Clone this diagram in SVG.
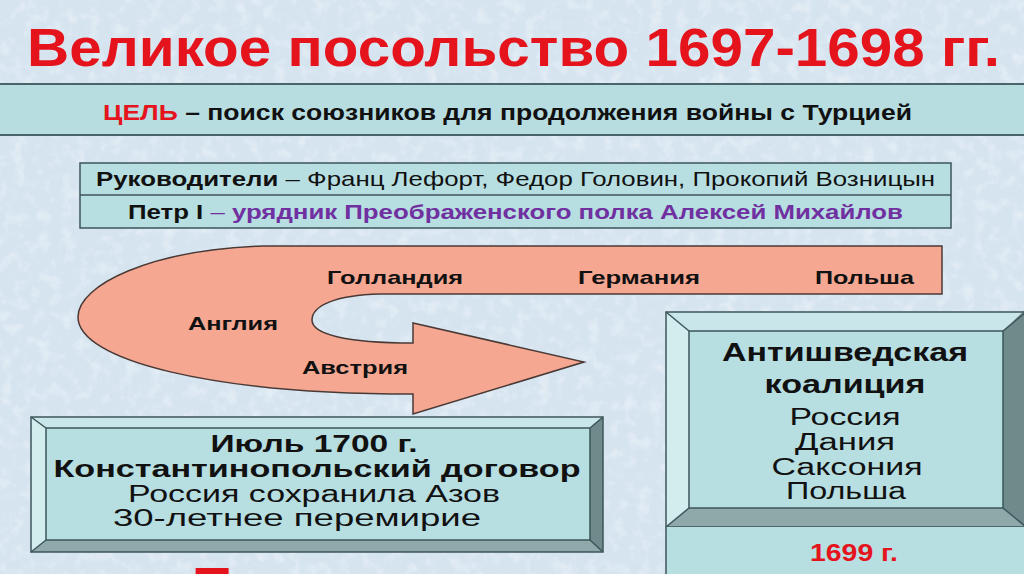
<svg xmlns="http://www.w3.org/2000/svg" width="1024" height="574" viewBox="0 0 1024 574">
<defs>
<filter id="tex" x="0" y="0" width="100%" height="100%">
<feTurbulence type="fractalNoise" baseFrequency="0.08" numOctaves="3" seed="4" result="n"/>
<feColorMatrix in="n" type="matrix" values="0 0 0 0 1  0 0 0 0 1  0 0 0 0 1  0 0 0 1.6 -0.75" result="w"/>
<feComposite in="w" in2="SourceGraphic" operator="in"/>
</filter>
<style>
.sans{font-family:"Liberation Sans",Arial,sans-serif}
.b{font-weight:bold}
.red{fill:#e5141c}
.blk{fill:#111}
.pur{fill:#7030a0}
.face{fill:#b7dee1}
.edge{stroke:#3c5559;stroke-width:1.5}
.lbl{font-family:"Liberation Sans",Arial,sans-serif;font-weight:bold;font-size:19px;fill:#111}
</style>
</defs>
<rect width="1024" height="574" fill="#d6e4f0"/>
<rect width="1024" height="574" fill="#d6e4f0" filter="url(#tex)" opacity="0.55"/>

<g id="title">
<text class="sans b red" x="27" y="66" font-size="54" textLength="973" lengthAdjust="spacingAndGlyphs">Великое посольство 1697-1698 гг.</text>
</g>

<g id="goal">
<rect x="-2" y="84" width="1028" height="51" fill="#b7dde1" stroke="#4a6569" stroke-width="2"/>
<text class="sans b" x="103" y="120" font-size="22" textLength="809" lengthAdjust="spacingAndGlyphs"><tspan class="red">ЦЕЛЬ</tspan><tspan class="blk"> – поиск союзников для продолжения войны с Турцией</tspan></text>
</g>

<g id="leaders">
<rect x="80" y="163" width="871" height="65" class="face edge"/>
<line x1="80" y1="195" x2="951" y2="195" class="edge"/>
<text class="sans" x="96" y="186" font-size="21" textLength="839" lengthAdjust="spacingAndGlyphs"><tspan class="b blk">Руководители</tspan><tspan class="blk"> – Франц Лефорт, Федор Головин, Прокопий Возницын</tspan></text>
<text class="sans" x="128" y="219" font-size="21" textLength="775" lengthAdjust="spacingAndGlyphs"><tspan class="b blk">Петр I</tspan><tspan class="pur"> – </tspan><tspan class="b pur">урядник Преображенского полка Алексей Михайлов</tspan></text>
</g>

<g id="connectors">
<path d="M942,246 L262,246 C150,250 78,285 78,317 C78,360 210,394 413,394 L413,414 L584,362 L413,323 L413,343 C345,343 312,334 312,320 C312,306 335,295 380,294 L942,294 Z" fill="#f5a791" stroke="#4a3a36" stroke-width="1.5" stroke-linejoin="miter"/>
<text class="lbl" x="327" y="284" textLength="136" lengthAdjust="spacingAndGlyphs">Голландия</text>
<text class="lbl" x="578" y="284" textLength="122" lengthAdjust="spacingAndGlyphs">Германия</text>
<text class="lbl" x="815" y="284" textLength="99" lengthAdjust="spacingAndGlyphs">Польша</text>
<text class="lbl" x="188" y="330" textLength="90" lengthAdjust="spacingAndGlyphs">Англия</text>
<text class="lbl" x="302" y="374" textLength="106" lengthAdjust="spacingAndGlyphs">Австрия</text>
</g>

<g id="treaty">
<polygon points="31,417 603,417 590,428 46,428" fill="#c9e7ea"/>
<polygon points="31,417 46,428 46,540 31,552" fill="#d3ecee"/>
<polygon points="603,417 603,552 590,540 590,428" fill="#6e8a8b"/>
<polygon points="31,552 46,540 590,540 603,552" fill="#8fa9aa"/>
<rect x="46" y="428" width="544" height="112" class="face"/>
<rect x="31" y="417" width="572" height="135" fill="none" class="edge"/>
<rect x="46" y="428" width="544" height="112" fill="none" class="edge"/>
<line x1="31" y1="417" x2="46" y2="428" class="edge"/>
<line x1="603" y1="417" x2="590" y2="428" class="edge"/>
<line x1="31" y1="552" x2="46" y2="540" class="edge"/>
<line x1="603" y1="552" x2="590" y2="540" class="edge"/>
<text class="sans b blk" x="314" y="452" font-size="24" text-anchor="middle" textLength="207" lengthAdjust="spacingAndGlyphs">Июль 1700 г.</text>
<text class="sans b blk" x="317" y="477" font-size="23" text-anchor="middle" textLength="527" lengthAdjust="spacingAndGlyphs">Константинопольский договор</text>
<text class="sans blk" x="314" y="502" font-size="23" text-anchor="middle" textLength="372" lengthAdjust="spacingAndGlyphs">Россия сохранила Азов</text>
<text class="sans blk" x="297" y="526" font-size="23" text-anchor="middle" textLength="368" lengthAdjust="spacingAndGlyphs">30-летнее перемирие</text>
</g>

<g id="coalition">
<polygon points="666,312 1030,312 1003,331 689,331" fill="#c9e7ea"/>
<polygon points="666,312 689,331 689,508 666,527" fill="#d3ecee"/>
<polygon points="1030,305 1030,534 1003,508 1003,331" fill="#6e8a8b"/>
<polygon points="666,527 689,508 1003,508 1030,530" fill="#8fa9aa"/>
<rect x="689" y="331" width="314" height="177" class="face"/>
<path d="M666,527 L666,312 L1030,312" fill="none" class="edge"/>
<line x1="666" y1="527" x2="1030" y2="527" class="edge"/>
<rect x="689" y="331" width="314" height="177" fill="none" class="edge"/>
<line x1="666" y1="312" x2="689" y2="331" class="edge"/>
<line x1="666" y1="527" x2="689" y2="508" class="edge"/>
<line x1="1003" y1="331" x2="1026" y2="312" class="edge"/>
<line x1="1003" y1="508" x2="1026" y2="527" class="edge"/>
<text class="sans b blk" x="845" y="361" font-size="26" text-anchor="middle" textLength="246" lengthAdjust="spacingAndGlyphs">Антишведская</text>
<text class="sans b blk" x="845" y="393" font-size="26" text-anchor="middle" textLength="161" lengthAdjust="spacingAndGlyphs">коалиция</text>
<text class="sans blk" x="845" y="425" font-size="23" text-anchor="middle" textLength="111" lengthAdjust="spacingAndGlyphs">Россия</text>
<text class="sans blk" x="845" y="450" font-size="23" text-anchor="middle" textLength="100" lengthAdjust="spacingAndGlyphs">Дания</text>
<text class="sans blk" x="847" y="475" font-size="23" text-anchor="middle" textLength="151" lengthAdjust="spacingAndGlyphs">Саксония</text>
<text class="sans blk" x="846" y="499" font-size="23" text-anchor="middle" textLength="120" lengthAdjust="spacingAndGlyphs">Польша</text>
</g>

<g id="year1699">
<rect x="666" y="527" width="364" height="60" class="face"/>
<line x1="666" y1="527" x2="666" y2="580" class="edge"/>
<text class="sans b red" x="854" y="561" font-size="23" text-anchor="middle" textLength="88" lengthAdjust="spacingAndGlyphs">1699 г.</text>
</g>

<g id="bottom-title">
<text class="sans b red" x="195" y="606" font-size="56">Т</text>
</g>
</svg>
